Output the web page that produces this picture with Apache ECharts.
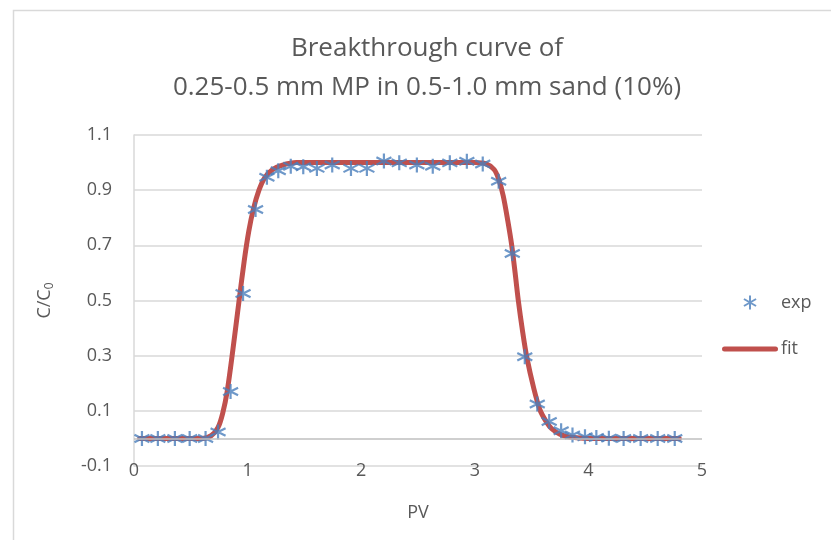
<!DOCTYPE html>
<html>
<head>
<meta charset="utf-8">
<script type="text/javascript" src="https://cdn.jsdelivr.net/npm/echarts@6/dist/echarts.min.js"></script>
<style>
	html, body { margin: 0; padding: 0; background: #fff; }
	#main { width: 831px; height: 540px; }
</style>
</head>
<body>
<div id="main"></div>
<script type="text/javascript">
	// measured points (PV, C/C0)
	var expX = [0.07, 0.21, 0.36, 0.49, 0.63, 0.74, 0.85, 0.96, 1.07, 1.17,
		1.27, 1.38, 1.49, 1.61, 1.745, 1.91, 2.05, 2.20, 2.335, 2.49,
		2.63, 2.78, 2.93, 3.07, 3.21, 3.33, 3.44, 3.55, 3.655, 3.76,
		3.86, 3.97, 4.07, 4.18, 4.31, 4.46, 4.61, 4.76];
	var expY = [0, 0, 0, 0, 0, 0.023, 0.17, 0.525, 0.83, 0.947,
		0.97, 0.987, 0.985, 0.979, 0.991, 0.979, 0.979, 1.006, 0.999, 0.991,
		0.987, 0.999, 1.005, 0.995, 0.932, 0.67, 0.296, 0.125, 0.061, 0.028,
		0.012, 0.006, 0.003, 0.001, 0, 0, 0, 0];
	// fitted curve
	var fitX = [0.05, 0.6, 0.68, 0.74, 0.78, 0.82, 0.87, 0.925, 0.97, 1.01,
		1.05, 1.1, 1.15, 1.22, 1.3, 1.43, 2.0, 2.5, 3.0, 3.1,
		3.17, 3.21, 3.25, 3.29, 3.325, 3.355, 3.383, 3.42, 3.457, 3.52,
		3.574, 3.63, 3.677, 3.75, 3.82, 3.9, 4.0, 4.8];
	var fitY = [0, 0, 0.01, 0.04, 0.09, 0.17, 0.32, 0.5, 0.643, 0.75,
		0.83, 0.9, 0.945, 0.975, 0.99, 1.0, 1.0, 1.0, 1.0, 0.995,
		0.975, 0.94, 0.88, 0.79, 0.70, 0.6, 0.5, 0.39, 0.296, 0.18,
		0.103, 0.06, 0.035, 0.015, 0.006, 0.002, 0, 0];
	var xTicks = [0, 1, 2, 3, 4, 5];
	var yTicks = [-0.1, 0.1, 0.3, 0.5, 0.7, 0.9, 1.1];

	function pairs(xs, ys) {
		var out = [];
		for (var i = 0; i < xs.length; i++) {
			out.push([xs[i], ys[i]]);
		}
		return out;
	}

	var font = 'Open Sans';
	var grey = '#595959';
	// excel style asterisk marker
	var star = 'path://M0,-10 L0,10 M-8.66,-5 L8.66,5 M-8.66,5 L8.66,-5';
	// thick line with round ends for the legend
	var fitIcon = 'path://M2.5,0 L53.5,0 A2.5,2.5 0 0 1 53.5,5 L2.5,5 A2.5,2.5 0 0 1 2.5,0 Z';

	var myChart = echarts.init(document.getElementById('main'));
	var option = {
		animation : false,
		backgroundColor : '#fff',
		textStyle : { fontFamily : font },
		graphic : [ {
			type : 'rect',
			left : 11,
			top : 8,
			shape : { width : 900, height : 700 },
			style : { fill : 'none', stroke : '#d9d9d9', lineWidth : 1.5 },
			silent : true
		} ],
		title : {
			text : 'Breakthrough curve of\n0.25-0.5 mm MP in 0.5-1.0 mm sand (10%)',
			left : 422,
			top : 24,
			textAlign : 'center',
			textStyle : {
				fontFamily : font,
				fontSize : 26,
				fontWeight : 'normal',
				color : grey,
				lineHeight : 39
			}
		},
		legend : {
			orient : 'vertical',
			left : 717,
			top : 288,
			itemWidth : 56,
			itemHeight : 14,
			itemGap : 28,
			data : [ 'exp', { name : 'fit', icon : fitIcon } ],
			textStyle : { fontFamily : font, fontSize : 18, color : grey, padding : [0, 0, 0, -2] }
		},
		grid : { left : 134, right : 129, top : 135, bottom : 74 },
		xAxis : {
			type : 'value',
			min : 0,
			max : 5,
			interval : 1,
			name : 'PV',
			nameLocation : 'middle',
			nameGap : 38,
			nameTextStyle : { fontFamily : font, fontSize : 18, color : grey },
			axisLine : { show : false, onZero : false },
			axisTick : { show : false },
			splitLine : { show : false },
			axisLabel : {
				margin : 5,
				verticalAlign : 'middle',
				fontFamily : font,
				fontSize : 18,
				color : grey,
				formatter : function(v) {
					return xTicks.indexOf(v) >= 0 ? String(v) : '';
				}
			}
		},
		yAxis : {
			type : 'value',
			min : -0.1,
			max : 1.1,
			interval : 0.2,
			name : 'C/C{sub|0}',
			nameLocation : 'middle',
			nameRotate : 90,
			nameGap : 78,
			nameTextStyle : {
				fontFamily : font,
				fontSize : 18,
				color : grey,
				rich : { sub : { fontFamily : font, fontSize : 12, color : grey, verticalAlign : 'bottom', padding : [10, 0, 0, 0] } }
			},
			axisLine : { show : true, lineStyle : { color : '#d9d9d9', width : 1.5 } },
			axisTick : { show : false },
			splitLine : { lineStyle : { color : '#d9d9d9', width : 1.5 } },
			axisLabel : {
				margin : 22,
				fontFamily : font,
				fontSize : 18,
				color : grey,
				formatter : function(v) {
					return (Math.round(v * 10) / 10).toFixed(1);
				}
			}
		},
		series : [ {
			name : 'fit',
			type : 'line',
			data : pairs(fitX, fitY),
			showSymbol : false,
			symbol : 'none',
			smooth : 0.3,
			z : 2,
			lineStyle : { color : '#c0504d', width : 5, cap : 'round' },
			itemStyle : { color : '#c0504d' },
			markLine : {
				silent : true,
				symbol : 'none',
				label : { show : false },
				lineStyle : { color : '#bfbfbf', width : 1.5, type : 'solid' },
				data : [ { yAxis : 0 } ]
			}
		}, {
			name : 'exp',
			type : 'scatter',
			data : pairs(expX, expY),
			symbol : star,
			symbolSize : 15,
			z : 3,
			itemStyle : { color : 'none', borderColor : '#4a7ebb', borderWidth : 2.2 }
		} ]
	};
	myChart.setOption(option);
</script>
</body>
</html>
